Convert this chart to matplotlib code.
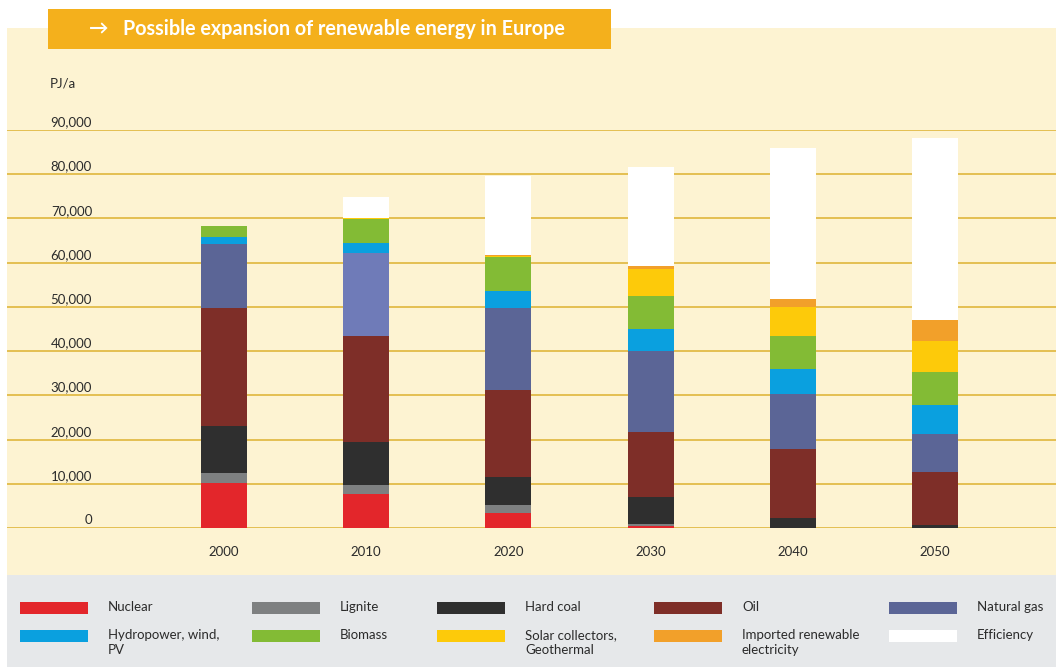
import matplotlib
matplotlib.use('Agg')
from matplotlib import pyplot as plt
from matplotlib.patches import Rectangle
import numpy as np

plt.rcParams['font.family'] = ['Lato', 'DejaVu Sans']

# data, PJ/a
years = ['2000', '2010', '2020', '2030', '2040', '2050']
nuclear = [10200, 7700, 3500, 500, 0, 0]
lignite = [2300, 2100, 1700, 400, 0, 0]
hard_coal = [10500, 9600, 6400, 6200, 2300, 750]
oil = [26800, 24100, 19700, 14600, 15600, 12000]
natural_gas = [14500, 18600, 18500, 18300, 12300, 8600]
hydro_wind_pv = [1500, 2400, 3900, 4900, 5700, 6500]
biomass = [2400, 5300, 7500, 7600, 7500, 7500]
solar_geo = [0, 300, 300, 6100, 6600, 6900]
imported = [0, 0, 150, 540, 1750, 4800]
efficiency = [0, 4700, 17900, 22500, 34200, 41100]

y_ticks = [0, 10000, 20000, 30000, 40000, 50000, 60000, 70000, 80000, 90000]

series = [
    ('Nuclear', nuclear, '#e3262b'),
    ('Lignite', lignite, '#7e8081'),
    ('Hard coal', hard_coal, '#2f2f2f'),
    ('Oil', oil, '#7e2e28'),
    ('Natural gas', natural_gas, '#5b6596'),
    ('Hydropower, wind,\nPV', hydro_wind_pv, '#0aa0df'),
    ('Biomass', biomass, '#83bb35'),
    ('Solar collectors,\nGeothermal', solar_geo, '#fdca0a'),
    ('Imported renewable\nelectricity', imported, '#f2a02a'),
    ('Efficiency', efficiency, '#ffffff'),
]
# the 2010 gas block is printed in a lighter blue
gas_colors = ['#5b6596', '#6f7bb8', '#5b6596', '#5b6596', '#5b6596', '#5b6596']

W, H = 1056, 667
fig = plt.figure(figsize=(W / 100, H / 100), dpi=100)
fig.patch.set_facecolor('white')


def px(x, y):
    return x / W, 1 - y / H


def fig_rect(x0, y0, x1, y1, color, z=-5):
    fig.patches.append(Rectangle(px(x0, y1), (x1 - x0) / W, (y1 - y0) / H,
                                 transform=fig.transFigure, facecolor=color,
                                 edgecolor='none', zorder=z))


# background panels
fig_rect(7, 28, W, 575, '#fdf3d2')
fig_rect(7, 575, W, H, '#e6e8ea')
fig_rect(48, 9, 611, 49, '#f4b01c', z=5)
fig.text(*px(89, 29), '\u2192', color='white', fontsize=14, fontweight='bold',
         va='center', ha='left', family=['Lato', 'DejaVu Sans'], zorder=6)
fig.text(*px(123, 29), 'Possible expansion of renewable energy in Europe',
         color='white', fontsize=14.2, fontweight='bold', va='center', ha='left',
         zorder=6)

# plotting area: zero line at y=528, 90,000 at y=130
ax = fig.add_axes([7 / W, 1 - 528 / H, (W - 7) / W, (528 - 130) / H])
ax.set_zorder(2)
ax.set_facecolor('none')
ax.axis('off')
ax.set_ylim(0, 90000)
step = 142.2
ax.set_xlim((7 - 224) / step, (W - 224) / step)

for t in y_ticks:
    ax.axhline(t, color='#e2bb48', lw=1.3, zorder=1)
    ax.text(85 / (W - 7), t + 400, '{:,}'.format(t), transform=ax.get_yaxis_transform(),
            ha='right', va='bottom', fontsize=9.5, color='#2b2b2b')

x = np.arange(len(years))
bottom = np.zeros(len(years))
for name, vals, col in series:
    colors = gas_colors if name == 'Natural gas' else col
    ax.bar(x, vals, width=0.323, bottom=bottom, color=colors, linewidth=0, zorder=2)
    bottom += np.array(vals)

for i, yr in enumerate(years):
    ax.text(i, -0.06, yr, transform=ax.get_xaxis_transform(), ha='center', va='center',
            fontsize=9.5, color='#2b2b2b')

fig.text(*px(50, 84), 'PJ/a', fontsize=9.5, color='#2b2b2b', va='center', ha='left')

# legend
sw_x = [20, 252, 437, 654, 889]
row_y = [602, 630]
for k, (name, vals, col) in enumerate(series):
    r, c = divmod(k, 5)
    x0 = sw_x[c]
    y0 = row_y[r]
    fig_rect(x0, y0, x0 + 68, y0 + 12, col, z=1)
    fig.text(*px(x0 + 88, y0 - 1), name, fontsize=9.5, color='#2b2b2b',
             va='top', ha='left', linespacing=1.3)

fig.savefig('out.png', dpi=100)
